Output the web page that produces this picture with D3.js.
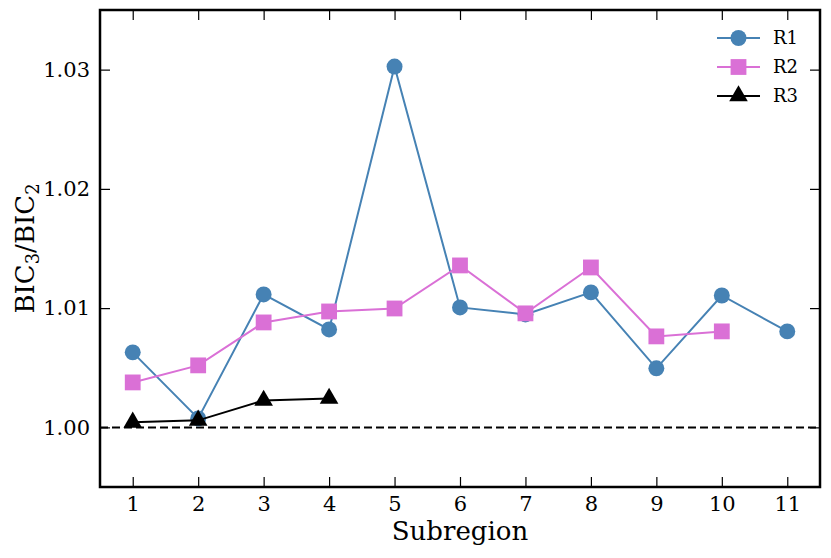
<!DOCTYPE html>
<html>
<head>
<meta charset="utf-8">
<script src="https://cdn.jsdelivr.net/npm/d3@7"></script>
<style>
  body { margin: 0; background: #fff; }
  text { font-family: "DejaVu Serif", serif; fill: #000; }
</style>
</head>
<body>
<div id="chart"></div>
<script>
// subregion index
const subregions = [1, 2, 3, 4, 5, 6, 7, 8, 9, 10, 11]
// BIC3/BIC2 per region
const r1 = [1.00629, 1.00075, 1.01115, 1.00821, 1.03026, 1.01006, 1.00947, 1.01132, 1.00495, 1.01106, 1.00805]
const r2 = [1.00377, 1.0052, 1.0088, 1.00972, 1.00997, 1.01358, 1.00956, 1.01341, 1.00763, 1.00805]
const r3 = [1.00042, 1.00059, 1.00226, 1.00243]
const yTicks = [1.00, 1.01, 1.02, 1.03]

const W = 831, H = 558
const margin = { top: 10, right: 11, bottom: 71, left: 100 }
const w = W - margin.left - margin.right
const h = H - margin.top - margin.bottom

const svg = d3.select("#chart").append("svg")
    .attr("width", W).attr("height", H)
  .append("g")
    .attr("transform", "translate(" + margin.left + "," + margin.top + ")")

const x = d3.scaleLinear().domain([0.5, 11.5]).range([0, w])
const y = d3.scaleLinear().domain([0.995, 1.035]).range([h, 0])

// axes, ticks point inward
const tick = 10
svg.append("g")
    .attr("transform", "translate(0," + h + ")")
    .call(d3.axisBottom(x).tickValues(subregions).tickFormat(d3.format("d")).tickSizeInner(-tick).tickSizeOuter(0).tickPadding(9))
    .call(g => g.select(".domain").remove())
    .call(g => g.selectAll("text").style("font-size", "21px"))
svg.append("g")
    .call(d3.axisTop(x).tickValues(subregions).tickFormat("").tickSizeInner(-tick).tickSizeOuter(0))
    .call(g => g.select(".domain").remove())
svg.append("g")
    .call(d3.axisLeft(y).tickValues(yTicks).tickFormat(d3.format(".2f")).tickSizeInner(-tick).tickSizeOuter(0).tickPadding(10))
    .call(g => g.select(".domain").remove())
    .call(g => g.selectAll("text").style("font-size", "21px"))
svg.append("g")
    .attr("transform", "translate(" + w + ",0)")
    .call(d3.axisRight(y).tickValues(yTicks).tickFormat("").tickSizeInner(-tick).tickSizeOuter(0))
    .call(g => g.select(".domain").remove())
svg.selectAll(".tick line").attr("stroke", "#000").attr("stroke-width", 1.2)

// reference line at 1
svg.append("line")
    .attr("x1", 0).attr("x2", w)
    .attr("y1", y(1)).attr("y2", y(1))
    .attr("stroke", "#000").attr("stroke-width", 2)
    .attr("stroke-dasharray", "8,4")

const series = [
  { name: "R1", values: r1, color: "#4682b4", shape: d3.symbolCircle, size: 200 },
  { name: "R2", values: r2, color: "#da70d6", shape: d3.symbolSquare, size: 250 },
  { name: "R3", values: r3, color: "#000000", shape: d3.symbolTriangle, size: 150 }
]

const line = d3.line().x((d, i) => x(subregions[i])).y(d => y(d))

series.forEach(s => {
  svg.append("path")
      .datum(s.values)
      .attr("fill", "none")
      .attr("stroke", s.color)
      .attr("stroke-width", 2)
      .attr("d", line)
  svg.selectAll(null)
      .data(s.values)
      .enter()
      .append("path")
      .attr("transform", (d, i) => "translate(" + x(subregions[i]) + "," + y(d) + ")")
      .attr("d", d3.symbol().type(s.shape).size(s.size))
      .attr("fill", s.color)
})

// frame
svg.append("rect")
    .attr("width", w).attr("height", h)
    .attr("fill", "none").attr("stroke", "#000").attr("stroke-width", 2.5)

// legend
const legend = svg.append("g").attr("transform", "translate(" + (w - 103) + ",28)")
series.forEach((s, i) => {
  const g = legend.append("g").attr("transform", "translate(0," + (i * 29) + ")")
  g.append("line").attr("x1", 0).attr("x2", 43)
      .attr("stroke", s.color).attr("stroke-width", 2)
  g.append("path").attr("transform", "translate(21.5,0)")
      .attr("d", d3.symbol().type(s.shape).size(s.size))
      .attr("fill", s.color)
  g.append("text").attr("x", 56).attr("dy", "0.35em")
      .style("font-size", "18px").text(s.name)
})

// axis labels
svg.append("text")
    .attr("x", w / 2).attr("y", h + 53)
    .attr("text-anchor", "middle")
    .style("font-size", "26px")
    .text("Subregion")

const yl = svg.append("text")
    .attr("transform", "translate(-66," + (h / 2) + ") rotate(-90)")
    .attr("text-anchor", "middle")
    .style("font-size", "26px")
yl.append("tspan").text("BIC")
yl.append("tspan").attr("baseline-shift", "-25%").style("font-size", "18px").text("3")
yl.append("tspan").text("/BIC")
yl.append("tspan").attr("baseline-shift", "-25%").style("font-size", "18px").text("2")
</script>
</body>
</html>
